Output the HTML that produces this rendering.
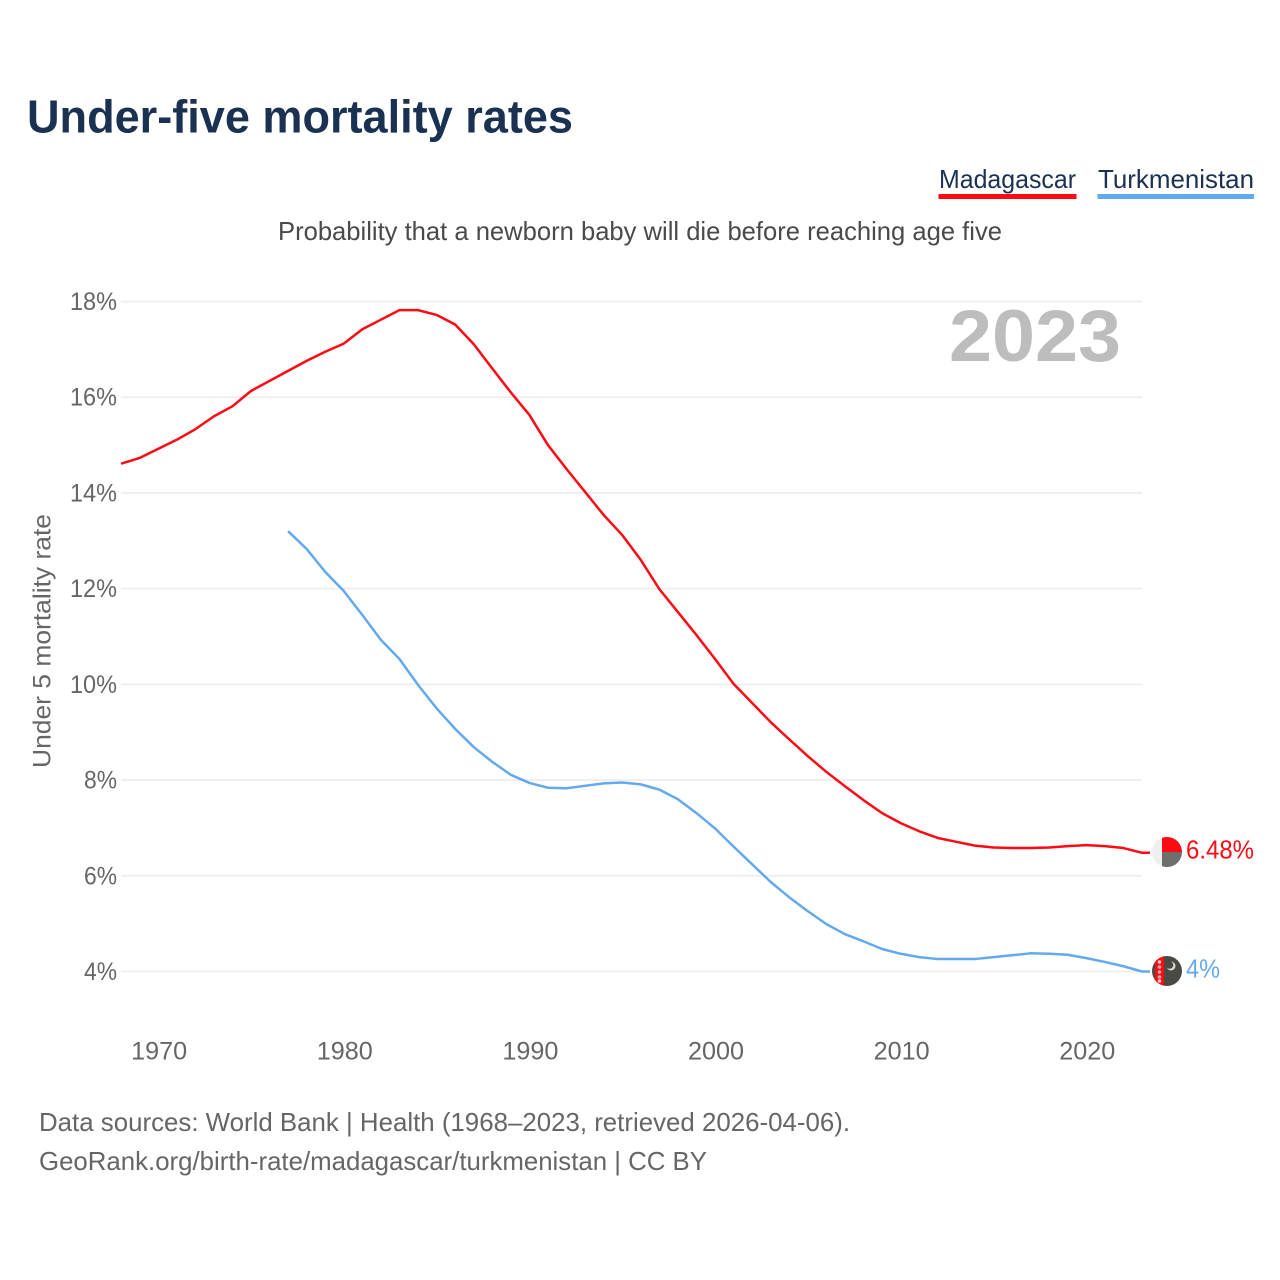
<!DOCTYPE html>
<html lang="en">
<head>
<meta charset="utf-8">
<title>Under-five mortality rates</title>
<style>
html,body{margin:0;padding:0;background:#fff}
svg{display:block;font-family:"Liberation Sans",sans-serif}
</style>
</head>
<body>
<svg id="chart" width="1280" height="1280" viewBox="0 0 1280 1280" xmlns="http://www.w3.org/2000/svg">
  <defs>
    <clipPath id="flag-clip-a"><circle cx="1167" cy="852" r="15"/></clipPath>
    <clipPath id="flag-clip-b"><circle cx="1167" cy="971" r="15"/></clipPath>
  </defs>
  <text x="27" y="132.500" font-size="46" font-weight="700" fill="#1a3151" textLength="546" lengthAdjust="spacingAndGlyphs">Under-five mortality rates</text>
  <text x="939" y="188" font-size="26" fill="#1a3151" textLength="137" lengthAdjust="spacingAndGlyphs">Madagascar</text>
  <rect x="938.500" y="194" width="138" height="5" fill="#ff0a13"/>
  <text x="1098" y="188" font-size="26" fill="#1a3151" textLength="156" lengthAdjust="spacingAndGlyphs">Turkmenistan</text>
  <rect x="1097.500" y="194" width="156.500" height="5" fill="#63a9ee"/>
  <text x="278" y="240" font-size="26" fill="#4a4a4a" textLength="724" lengthAdjust="spacingAndGlyphs">Probability that a newborn baby will die before reaching age five</text>
  <g id="grid"></g>
  <g id="y-ticks"></g>
  <g id="x-ticks"></g>
  <text transform="translate(50.500,768) rotate(-90)" font-size="25" fill="#666666" textLength="254" lengthAdjust="spacingAndGlyphs">Under 5 mortality rate</text>
  <text x="949" y="361" font-size="73" font-weight="700" fill="#bdbdbd" textLength="172" lengthAdjust="spacingAndGlyphs">2023</text>
  <path id="line-madagascar" fill="none" stroke="#ff0a13" stroke-width="2.500" stroke-linejoin="round"/>
  <path id="line-turkmenistan" fill="none" stroke="#63a9ee" stroke-width="2.500" stroke-linejoin="round"/>
  <g clip-path="url(#flag-clip-a)">
    <rect x="1152" y="837" width="30" height="30" fill="#efefef"/>
    <rect x="1162" y="837" width="20" height="15" fill="#ff0a13"/>
    <rect x="1162" y="852" width="20" height="15" fill="#6e6e6c"/>
  </g>
  <g clip-path="url(#flag-clip-b)">
    <rect x="1152" y="956" width="30" height="30" fill="#4a4a44"/>
    <rect x="1155" y="956" width="9" height="30" fill="#ff0a13"/>
    <circle cx="1159.500" cy="962" r="1.800" fill="#e8c8c8"/>
    <circle cx="1159.500" cy="967" r="1.800" fill="#c8a8a8"/>
    <circle cx="1159.500" cy="972" r="1.800" fill="#c8a8a8"/>
    <circle cx="1159.500" cy="977" r="1.800" fill="#c8a8a8"/>
    <circle cx="1159.500" cy="981" r="1.800" fill="#e8c8c8"/>
    <circle cx="1171" cy="966" r="4.500" fill="#d8d8d4"/>
    <circle cx="1169.500" cy="965" r="3.800" fill="#4a4a44"/>
  </g>
  <text id="end-label-madagascar" x="1186" y="858.500" font-size="26" fill="#ff0a13" textLength="68" lengthAdjust="spacingAndGlyphs">6.48%</text>
  <text id="end-label-turkmenistan" x="1186" y="977.500" font-size="26" fill="#63a9ee" textLength="34" lengthAdjust="spacingAndGlyphs">4%</text>
  <text x="39" y="1131" font-size="26" fill="#666666" textLength="811" lengthAdjust="spacingAndGlyphs">Data sources: World Bank | Health (1968–2023, retrieved 2026-04-06).</text>
  <text x="39" y="1170" font-size="26" fill="#666666" textLength="668" lengthAdjust="spacingAndGlyphs">GeoRank.org/birth-rate/madagascar/turkmenistan | CC BY</text>
</svg>
<script>
const madagascarStartYear = 1968;
const madagascarValues = [14.61,14.73,14.92,15.11,15.33,15.6,15.81,16.13,16.34,16.55,16.76,16.95,17.12,17.42,17.62,17.82,17.82,17.72,17.52,17.11,16.6,16.1,15.63,15.0,14.5,14.02,13.54,13.12,12.6,11.99,11.51,11.03,10.53,10.01,9.61,9.21,8.85,8.5,8.17,7.87,7.58,7.31,7.1,6.93,6.79,6.71,6.63,6.59,6.58,6.58,6.59,6.62,6.64,6.62,6.58,6.48];
const turkmenistanStartYear = 1977;
const turkmenistanValues = [13.2,12.83,12.35,11.95,11.45,10.93,10.53,9.99,9.5,9.07,8.69,8.38,8.11,7.94,7.84,7.83,7.88,7.93,7.95,7.91,7.8,7.6,7.31,6.99,6.61,6.24,5.87,5.55,5.26,4.99,4.78,4.63,4.47,4.37,4.3,4.26,4.26,4.26,4.3,4.34,4.38,4.37,4.35,4.28,4.2,4.11,4.0];
const yTickValues = [4,6,8,10,12,14,16,18];
const xTickValues = [1970,1980,1990,2000,2010,2020];

const NS = 'http://www.w3.org/2000/svg';
function xScale(year){ return 121 + (year - 1968) * (1021 / 55); }
function yScale(value){ return 971.5 - (value - 4) * (670 / 14); }
function linePath(startYear, values){
  const pts = values.map(function(v, i){
    return (i ? 'L' : 'M') + xScale(startYear + i).toFixed(2) + ' ' + yScale(v).toFixed(2);
  });
  pts.push('L1150 ' + yScale(values[values.length - 1]).toFixed(2));
  return pts.join(' ');
}
document.getElementById('line-madagascar').setAttribute('d', linePath(madagascarStartYear, madagascarValues));
document.getElementById('line-turkmenistan').setAttribute('d', linePath(turkmenistanStartYear, turkmenistanValues));

const grid = document.getElementById('grid');
const yTicks = document.getElementById('y-ticks');
yTickValues.forEach(function(v){
  const line = document.createElementNS(NS, 'line');
  
  
  line.setAttribute('x1', 121);
  line.setAttribute('x2', 1142);
  line.setAttribute('y1', yScale(v));
  line.setAttribute('y2', yScale(v));
  line.setAttribute('stroke', '#eeeeee');
  line.setAttribute('stroke-width', 1.8);
  grid.appendChild(line);
  const label = document.createElementNS(NS, 'text');
  
  
  label.setAttribute('x', 117);
  label.setAttribute('y', yScale(v) + 8.5);
  label.setAttribute('text-anchor', 'end');
  label.setAttribute('font-size', 25);
  label.setAttribute('fill', '#666666');
  label.setAttribute('textLength', String(v).length * 14 + 19);
  label.setAttribute('lengthAdjust', 'spacingAndGlyphs');
  label.textContent = v + '%';
  yTicks.appendChild(label);
});
const xTicks = document.getElementById('x-ticks');
xTickValues.forEach(function(y){
  const label = document.createElementNS(NS, 'text');
  
  
  label.setAttribute('x', xScale(y) + 1);
  label.setAttribute('y', 1059.5);
  label.setAttribute('text-anchor', 'middle');
  label.setAttribute('font-size', 25);
  label.setAttribute('fill', '#666666');
  label.setAttribute('textLength', 56);
  label.setAttribute('lengthAdjust', 'spacingAndGlyphs');
  label.textContent = y;
  xTicks.appendChild(label);
});
</script>
</body>
</html>
